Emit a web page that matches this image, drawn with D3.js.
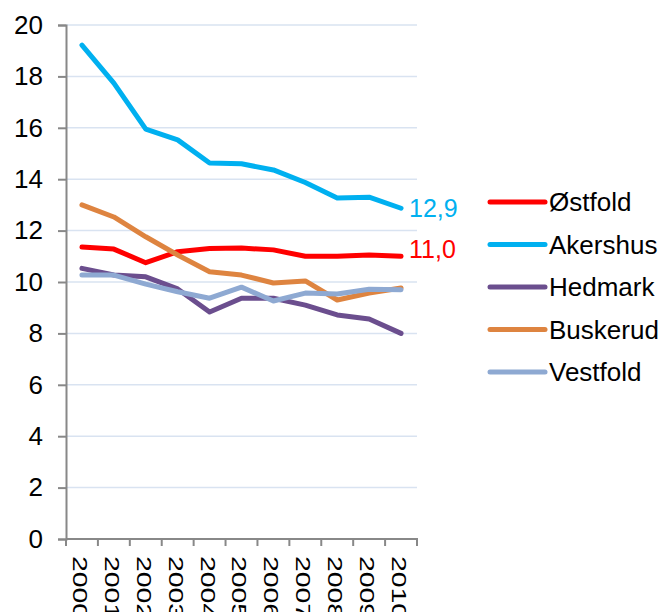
<!DOCTYPE html>
<html>
<head>
<meta charset="utf-8">
<script src="https://cdn.jsdelivr.net/npm/d3@7.9.0/dist/d3.min.js"></script>
<style>
  body { margin: 0; background: #fff; }
  svg { display: block; font-family: Arial, "Liberation Sans", sans-serif; }
</style>
</head>
<body>
<svg id="chart" width="662" height="612"></svg>
<script>
const years = ['2000','2001','2002','2003','2004','2005','2006','2007','2008','2009','2010'];
const yTicks = [0, 2, 4, 6, 8, 10, 12, 14, 16, 18, 20];

const ostfold  = [11.36, 11.28, 10.75, 11.18, 11.3, 11.32, 11.25, 11.0, 11.0, 11.05, 11.0];
const akershus = [19.22, 17.74, 15.95, 15.53, 14.63, 14.6, 14.36, 13.87, 13.27, 13.3, 12.87];
const hedmark  = [10.53, 10.27, 10.2, 9.73, 8.83, 9.37, 9.37, 9.1, 8.72, 8.56, 8.0];
const buskerud = [13.0, 12.53, 11.76, 11.05, 10.4, 10.27, 9.96, 10.04, 9.3, 9.57, 9.77];
const vestfold = [10.27, 10.27, 9.92, 9.62, 9.37, 9.8, 9.26, 9.57, 9.53, 9.72, 9.7];

const seriesNames = ['Østfold', 'Akershus', 'Hedmark', 'Buskerud', 'Vestfold'];
const seriesData = [ostfold, akershus, hedmark, buskerud, vestfold];
const colors = ['#FF0000', '#00B0F0', '#6B4E8E', '#DE8440', '#8EA9D2'];
const endLabels = [{ i: 1, text: '12,9' }, { i: 0, text: '11,0' }];
const labelNudge = { 1: 0, 0: -7 };

const svg = d3.select('#chart');
const plotL = 66, plotR = 417, plotT = 25, plotB = 539;

const x = d3.scaleBand().domain(years).range([plotL, plotR]);
const y = d3.scaleLinear().domain([0, 20]).range([plotB, plotT]);

// gridlines
svg.append('g')
  .selectAll('line')
  .data(yTicks.filter(d => d > 0))
  .join('line')
  .attr('x1', plotL).attr('x2', plotR)
  .attr('y1', d => y(d)).attr('y2', d => y(d))
  .attr('stroke', '#D9E3F1').attr('stroke-width', 1.5);

// y axis
const yAxis = svg.append('g')
  .attr('transform', `translate(${plotL},0)`)
  .call(d3.axisLeft(y).tickValues(yTicks).tickSize(8).tickPadding(15));
yAxis.select('.domain').attr('stroke', '#888').attr('stroke-width', 2);
yAxis.selectAll('.tick line').attr('stroke', '#888').attr('stroke-width', 2);
yAxis.selectAll('.tick text')
  .attr('font-size', 26).attr('fill', '#000')
  .attr('font-family', 'Arial, "Liberation Sans", sans-serif');

// x axis (ticks at band edges)
const xg = svg.append('g').attr('transform', `translate(0,${plotB})`);
xg.append('line')
  .attr('x1', plotL).attr('x2', plotR + 1)
  .attr('stroke', '#888').attr('stroke-width', 2);
const edges = years.map(d => x(d)).concat([plotR]);
xg.selectAll('.tk')
  .data(edges)
  .join('line')
  .attr('class', 'tk')
  .attr('x1', d => d).attr('x2', d => d)
  .attr('y1', 0).attr('y2', 7)
  .attr('stroke', '#888').attr('stroke-width', 2);
xg.selectAll('text')
  .data(years)
  .join('text')
  .attr('transform', d => `translate(${x(d) + x.bandwidth() / 2 - 2},17) rotate(90) scale(1.42,1)`)
  .attr('dy', '0.35em')
  .attr('font-size', 20)
  .attr('fill', '#000')
  .text(d => d);

// lines
const line = d3.line()
  .x((d, i) => x(years[i]) + x.bandwidth() / 2)
  .y(d => y(d));

svg.append('g')
  .selectAll('path')
  .data(seriesData)
  .join('path')
  .attr('d', d => line(d))
  .attr('fill', 'none')
  .attr('stroke', (d, i) => colors[i])
  .attr('stroke-width', 5)
  .attr('stroke-linejoin', 'round')
  .attr('stroke-linecap', 'round');

// end labels
const lastX = x(years[years.length - 1]) + x.bandwidth() / 2;
svg.append('g')
  .selectAll('text')
  .data(endLabels)
  .join('text')
  .attr('x', lastX + 8)
  .attr('y', d => y(seriesData[d.i][seriesData[d.i].length - 1]) + labelNudge[d.i])
  .attr('dy', '0.35em')
  .attr('font-size', 25)
  .attr('fill', d => colors[d.i])
  .text(d => d.text);

// legend
const lg = svg.append('g');
const legendItems = lg.selectAll('g')
  .data(seriesNames)
  .join('g')
  .attr('transform', (d, i) => `translate(490,${202 + i * 42.5})`);
legendItems.append('line')
  .attr('x1', 0).attr('x2', 55)
  .attr('stroke', (d, i) => colors[i])
  .attr('stroke-width', 5)
  .attr('stroke-linecap', 'round');
legendItems.append('text')
  .attr('x', 59)
  .attr('dy', '0.35em')
  .attr('font-size', 26)
  .attr('fill', '#000')
  .text(d => d);
</script>
</body>
</html>
